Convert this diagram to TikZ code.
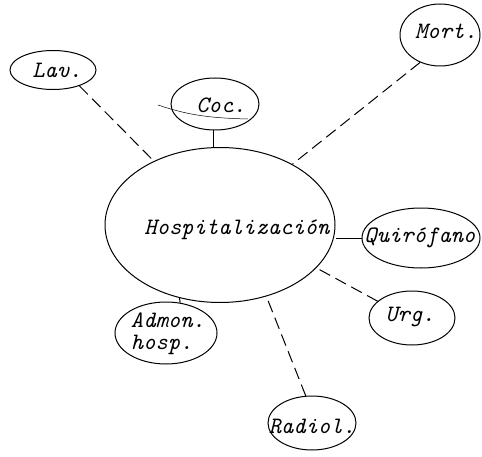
\documentclass[tikz,border=0pt]{standalone}
\usepackage{fontspec}
\usetikzlibrary{shapes.geometric}
\begin{document}
\begin{tikzpicture}[x=1pt,y=1pt,
  blob/.style={draw, ellipse, line width=1pt, inner sep=0pt},
  lbl/.style={font=\fontsize{23.5}{22}\selectfont\ttfamily\itshape, inner sep=0pt, align=center},
  solidlink/.style={line width=1pt},
  dashlink/.style={line width=1pt, dash pattern=on 12pt off 6pt}]
\useasboundingbox (0,0) rectangle (482,456);
% ellipses
\node[blob, minimum width=230pt, minimum height=155pt] (hosp) at (220,231) {};
\node[blob, minimum width=86pt, minimum height=39pt] (lav) at (53,386) {};
\node[blob, minimum width=88pt, minimum height=52pt] (coc) at (215,352) {};
\node[blob, minimum width=80pt, minimum height=62pt] (mort) at (440,421) {};
\node[blob, minimum width=118pt, minimum height=60pt] (quiro) at (421,218) {};
\node[blob, minimum width=86pt, minimum height=54pt] (urg) at (412,138) {};
\node[blob, minimum width=102pt, minimum height=62pt] (adm) at (166,123) {};
\node[blob, minimum width=88pt, minimum height=54pt] (rad) at (312,33) {};
% labels
\node[lbl] (hospT) at (237,226) {Hospitalización};
\node[lbl] (lavT) at (57,386) {Lav.};
\node[lbl] (cocT) at (221,351) {Coc.};
\node[lbl] (mortT) at (446,425) {Mort.};
\node[lbl] (quiroT) at (420,218) {Quirófano};
\node[lbl] (urgT) at (410,139) {Urg.};
\node[lbl, align=left] (admT) at (168,122) {Admon.\\hosp.};
\node[lbl] (radT) at (312,30) {Radiol.};
% connectors
\draw[dashlink] (lav.-31) -- (hosp.136);
\draw[solidlink] (coc.south) ++(-2pt,0) coordinate (cocb) -- (cocb |- hosp.north);
\draw[dashlink] (mort.-126) -- (hosp.40);
\draw[solidlink] (quiro.west) -- (quiro.west -| hosp.east);
\draw[dashlink] (urg.154) -- (hosp.-24);
\draw[solidlink] (adm.65) -- (hosp.-119);
\draw[dashlink] (rad.103) -- (hosp.-57);
% stray stroke across Coc.
\draw[line width=0.5pt] (158,351) .. controls (185,342) and (205,338) .. (248,337);
\end{tikzpicture}
\end{document}
